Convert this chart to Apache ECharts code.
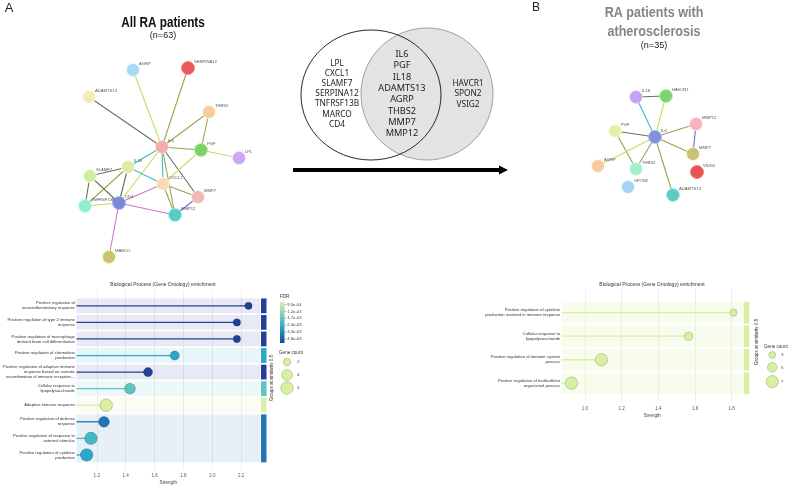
<!DOCTYPE html>
<html><head><meta charset="utf-8">
<script src="https://cdn.jsdelivr.net/npm/echarts@6/dist/echarts.min.js"></script>
<style>html,body{margin:0;padding:0;background:#fff}#c{width:793px;height:486px}</style>
</head><body><div id="c"></div>
<script>
// ---------------- DATA ----------------
const vennAllOnly = ['LPL','CXCL1','SLAMF7','SERPINA12','TNFRSF13B','MARCO','CD4'];
const vennShared  = ['IL6','PGF','IL18','ADAMTS13','AGRP','THBS2','MMP7','MMP12'];
const vennAthOnly = ['HAVCR1','SPON2','VSIG2'];

// Network A (all RA patients) - node layout positions
const netANodes = ['AGRP','SERPINA12','ADAMTS13','THBS2','IL6','PGF','LPL','IL18','SLAMF7','CXCL1','MMP7','TNFRSF13B','CD4','MMP12','MARCO'];
const netAPos   = [[133,70],[188,68],[89,97],[209,112],[162,147],[201,150],[239,158],[128,167],[90,176],[163,184],[198,197],[85,206],[119,203],[175,215],[109,257]];
const netAColors= ['#a9d9f5','#e9585c','#f2ecb4','#f8cba6','#f4abab','#7fcf6c','#c9a8f5','#dcebab','#c9f0a2','#f6dab4','#f2bab2','#93efc9','#7b89d9','#5ec9c1','#c9c274'];
const netAEdges = [
  ['IL6','AGRP','y'],['IL6','SERPINA12','o'],['IL6','ADAMTS13','d'],['IL6','THBS2','o'],['THBS2','PGF','o'],
  ['IL6','PGF','o'],['PGF','LPL','y'],['IL6','IL18','c'],['IL6','CXCL1','c'],['IL6','MMP7','d'],['IL6','MMP12','o'],
  ['IL6','CD4','y'],['PGF','CXCL1','y'],['IL18','SLAMF7','d'],['IL18','CXCL1','c'],['IL18','CD4','d'],
  ['IL18','TNFRSF13B','o'],['SLAMF7','CD4','d'],['SLAMF7','TNFRSF13B','d'],['TNFRSF13B','CD4','y'],
  ['CD4','CXCL1','p'],['CD4','MMP12','p'],['CD4','MARCO','p'],['CXCL1','MMP7','o'],['CXCL1','MMP12','o'],['MMP7','MMP12','b']
];

// Network B (RA patients with atherosclerosis)
const netBNodes = ['IL18','HAVCR1','MMP12','PGF','IL6','MMP7','AGRP','THBS2','VSIG2','SPON2','ADAMTS13'];
const netBPos   = [[636,97],[666,96],[696,124],[615,131],[655,137],[693,154],[598,166],[636,169],[697,172],[628,187],[673,195]];
const netBColors= ['#c2a4f2','#82d173','#f5b3bb','#def0ab','#8292d9','#c9c27b','#f8caa3','#a3f0ca','#e85353','#aad2f2','#62c9c1'];
const netBEdges = [
  ['IL18','HAVCR1','d'],['IL18','IL6','c'],['HAVCR1','IL6','y'],['IL6','MMP12','o'],['IL6','MMP7','o'],
  ['MMP12','MMP7','b'],['PGF','IL6','d'],['PGF','THBS2','o'],['AGRP','IL6','y'],['IL6','THBS2','o'],['IL6','ADAMTS13','o']
];

// Enrichment A
const leftTerms = [
  'Positive regulation of\nneuroinflammatory response',
  'Positive regulation of type 2 immune\nresponse',
  'Positive regulation of macrophage\nderived foam cell differentiation',
  'Positive regulation of chemokine\nproduction',
  'Positive regulation of adaptive immune\nresponse based on somatic\nrecombination of immune receptors...',
  'Cellular response to\nlipopolysaccharide',
  'Adaptive immune response',
  'Positive regulation of defense\nresponse',
  'Positive regulation of response to\nexternal stimulus',
  'Positive regulation of cytokine\nproduction'
];
const leftStrength = [2.25,2.17,2.17,1.74,1.555,1.43,1.265,1.25,1.16,1.13];
const leftGenes    = [2,2,2,3,3,4,5,4,5,5];
const leftFdr      = [4.8e-3,4.8e-3,4.8e-3,2.4e-3,4.8e-3,1.7e-3,9.3e-4,3.3e-3,2.0e-3,2.4e-3];
const leftGroups   = [[0,0,4.8e-3],[1,1,4.8e-3],[2,2,4.8e-3],[3,3,2.4e-3],[4,4,4.8e-3],[5,5,1.7e-3],[6,6,9.3e-4],[7,9,3.3e-3]];
const leftTicks    = [1.2,1.4,1.6,1.8,2.0,2.2];
const leftLegendCounts = [2,4,5];

// Enrichment B
const rightTerms = [
  'Positive regulation of cytokine\nproduction involved in immune response',
  'Cellular response to\nlipopolysaccharide',
  'Positive regulation of immune system\nprocess',
  'Positive regulation of multicellular\norganismal process'
];
const rightStrength = [1.81,1.565,1.09,0.927];
const rightGenes    = [3,4,7,7];
const rightFdr      = [9.3e-4,9.3e-4,9.3e-4,9.3e-4];
const rightGroups   = [[0,0,9.3e-4],[1,1,9.3e-4],[2,2,9.3e-4],[3,3,9.3e-4]];
const rightTicks    = [1.0,1.2,1.4,1.6,1.8];
const rightLegendCounts = [3,5,7];

const fdrTicks  = [9.3e-4,1.2e-3,1.7e-3,2.4e-3,3.3e-3,4.8e-3];

// ---------------- STYLE ----------------
const fdrColors = ['#d9f0a3','#a6dcb6','#5fc4bf','#2aa8c9','#2175b3','#243f97'];
const edgeColors = {d:'#707058', o:'#9ea24e', y:'#c8dc62', c:'#3fb8d2', p:'#d274cc', b:'#6a6ae2'};
const FONT = '"Liberation Sans", Arial, sans-serif';
const L = {xmin:1.06, xmax:2.33, ymin:-0.956, ymax:9.91};
const R = {xmin:0.873, xmax:1.86, ymin:-1.05, ymax:3.84};
const sizeL = g => 4 + 1.7*g;
const sizeR = g => 2.8 + 1.35*g;

function fdrColor(f){
  const lt = fdrTicks.map(Math.log), lf = Math.log(f);
  let pos = 0;
  if (lf <= lt[0]) pos = 0;
  else if (lf >= lt[lt.length-1]) pos = lt.length-1;
  else for (let i=0;i<lt.length-1;i++){ if (lf>=lt[i] && lf<=lt[i+1]) { pos = i + (lf-lt[i])/(lt[i+1]-lt[i]); break; } }
  return echarts.color.lerp(pos/(lt.length-1), fdrColors);
}
const fmtE = v => v.toExponential(1).replace(/e([+-])(\d)$/, 'e$10$2');

function netSeries(nodes,pos,colors,edges){
  return {
    type:'graph', coordinateSystem:'cartesian2d', xAxisIndex:2, yAxisIndex:2,
    symbolSize:13, z:3,
    data: nodes.map((n,i)=>({name:n, value:pos[i],
      itemStyle:{color:colors[i], borderColor:echarts.color.lift(colors[i], -0.3), borderWidth:0.8}})),
    links: edges.map(([s,t,k])=>({source:s, target:t, lineStyle:{color:edgeColors[k]}})),
    lineStyle:{width:1.1, opacity:1, curveness:0},
    label:{show:true, position:'right', distance:0, offset:[-1,-6], fontSize:4.2, color:'#555', fontFamily:FONT},
    emphasis:{disabled:true}, silent:true
  };
}

function bandSeries(gi, groups, X, alpha){
  return {
    type:'custom', xAxisIndex:gi, yAxisIndex:gi, clip:false, z:1, silent:true,
    data: groups,
    renderItem(params, api){
      const s=api.value(0), e=api.value(1), col=fdrColor(api.value(2));
      const h=Math.abs(api.size([0,1])[1]);
      const x0=api.coord([X.xmin,s])[0], x1=api.coord([X.xmax,s])[0];
      const y0=api.coord([X.xmin,s])[1]-h/2+0.9, y1=api.coord([X.xmin,e])[1]+h/2-0.9;
      return {type:'group', children:[
        {type:'rect', shape:{x:x0,y:y0,width:x1-x0,height:y1-y0}, style:{fill:echarts.color.modifyAlpha(col, alpha)}},
        {type:'rect', shape:{x:x1+1,y:y0,width:5.5,height:y1-y0}, style:{fill:col}}
      ]};
    }
  };
}
function stemSeries(gi, strength, fdr, X, lw, colorFn){
  return {
    type:'custom', xAxisIndex:gi, yAxisIndex:gi, z:2, silent:true,
    data: strength.map((v,i)=>[v,i,fdr[i]]),
    renderItem(params, api){
      const p0=api.coord([X.xmin, api.value(1)]), p1=api.coord([api.value(0), api.value(1)]);
      return {type:'line', shape:{x1:p0[0],y1:p0[1],x2:p1[0],y2:p1[1]}, style:{stroke:colorFn(api.value(2)), lineWidth:lw}};
    }
  };
}
function dotSeries(gi, strength, genes, fdr, sizeFn, border){
  return {
    type:'scatter', xAxisIndex:gi, yAxisIndex:gi, z:4, silent:true,
    data: strength.map((v,i)=>[v,i,genes[i],fdr[i]]),
    symbolSize: d=>sizeFn(d[2]),
    itemStyle:{color:p=>fdrColor(p.data[3]), borderColor:border, borderWidth:0.7, opacity:1}
  };
}
function xAx(gi, X, ticks){
  return {gridIndex:gi, type:'value', min:X.xmin, max:X.xmax,
    axisLine:{show:false}, axisTick:{show:false, customValues:ticks},
    axisLabel:{customValues:ticks, fontSize:4.5, color:'#555', margin:3, fontFamily:FONT, formatter:v=>v.toFixed(1)},
    splitLine:{show:true, lineStyle:{color:'#e4e4e4', width:0.6}},
    name:'Strength', nameLocation:'middle', nameGap:10, nameTextStyle:{fontSize:4.6, color:'#444', fontFamily:FONT}};
}
function yAx(gi, X, terms){
  return {gridIndex:gi, type:'value', inverse:true, min:X.ymin, max:X.ymax,
    axisLine:{show:false}, axisTick:{show:false}, splitLine:{show:false},
    axisLabel:{customValues:terms.map((t,i)=>i), formatter:v=>terms[v], fontSize:4.2, lineHeight:5,
      color:'#333', margin:1.6, align:'right', fontFamily:FONT}};
}

// ---------------- GRAPHICS (titles, venn, legends) ----------------
const g = [];
const txt = (text,x,y,o,el) => g.push(Object.assign({type:'text', silent:true, x, y,
  style:Object.assign({text, x:0, y:0, align:'center', verticalAlign:'middle', fontFamily:FONT, fill:'#222'}, o||{})}, el||{}));
const NARROW = '"Liberation Sans Narrow", "Liberation Sans", Arial, sans-serif';
txt('A', 9, 8, {fontSize:13});
txt('B', 536, 8, {fontSize:12});
txt('All RA patients', 163, 23, {fontSize:14, fontWeight:'bold', fontFamily:NARROW, fill:'#111'}, {scaleX:0.84});
txt('(n=63)', 163, 36, {fontSize:9});
txt('RA patients with\natherosclerosis', 654, 22.5, {fontSize:15, lineHeight:19, fontWeight:'bold', fontFamily:NARROW, fill:'#858585'}, {scaleX:0.84});
txt('(n=35)', 654, 46, {fontSize:9});

// Venn
g.push({type:'ellipse', silent:true, shape:{cx:371, cy:95, rx:70, ry:65}, style:{fill:'#fff'}});
g.push({type:'ellipse', silent:true, shape:{cx:427, cy:94, rx:66, ry:66}, style:{fill:'#e3e3e3', stroke:'#8c8c8c', lineWidth:0.8}});
g.push({type:'ellipse', silent:true, shape:{cx:371, cy:95, rx:70, ry:65}, style:{fill:null, stroke:'#111', lineWidth:0.9}});
const VF = '"Noto Sans", "Open Sans", sans-serif';
txt(vennAllOnly.join('\n'), 337, 94, {fontSize:8.3, lineHeight:10.1, fontFamily:VF, fill:'#222'});
txt(vennShared.join('\n'), 402, 94, {fontSize:9.2, lineHeight:11.3, fontFamily:VF, fill:'#222'});
txt(vennAthOnly.join('\n'), 468, 94, {fontSize:8.3, lineHeight:10.5, fontFamily:VF, fill:'#222'});
// Arrow
g.push({type:'line', silent:true, shape:{x1:293,y1:170,x2:501,y2:170}, style:{stroke:'#000', lineWidth:4.2}});
g.push({type:'polygon', silent:true, shape:{points:[[499,165.5],[508,170],[499,174.5]]}, style:{fill:'#000'}});

// Enrichment titles
txt('Biological Process (Gene Ontology) enrichment', 163, 285, {fontSize:5, fill:'#333'});
txt('Biological Process (Gene Ontology) enrichment', 652, 285, {fontSize:5, fill:'#333'});
// Groups labels (rotated, reading bottom to top)
txt('Groups at similarity 0.8', 271.5, 378, {fontSize:4.5, fill:'#333'}, {rotation:Math.PI/2});
txt('Groups at similarity 0.8', 757, 342, {fontSize:4.5, fill:'#333'}, {rotation:Math.PI/2});

// FDR colorbar (left)
txt('FDR', 280, 297, {fontSize:4.6, align:'left', fill:'#333'});
g.push({type:'rect', silent:true, shape:{x:280, y:302, width:4.5, height:41},
  style:{fill:new echarts.graphic.LinearGradient(0,0,0,1, fdrColors.map((c,i)=>({offset:i/(fdrColors.length-1), color:c})))}});
fdrTicks.forEach((f,i)=>{
  const y = 304.5 + i*(34.5/(fdrTicks.length-1));
  g.push({type:'line', silent:true, shape:{x1:284.5,y1:y,x2:286.5,y2:y}, style:{stroke:'#666', lineWidth:0.5}});
  txt(fmtE(f), 287.3, y, {fontSize:4.2, align:'left', fill:'#444'});
});
// Gene count legends
txt('Gene count', 279, 353, {fontSize:4.6, align:'left', fill:'#333'});
[362,375,388].forEach((y,i)=>{
  const r = sizeL(leftLegendCounts[i])/2;
  g.push({type:'circle', silent:true, shape:{cx:287, cy:y, r}, style:{fill:'#d9f0a3', stroke:'#9bb57a', lineWidth:0.6}});
  txt(String(leftLegendCounts[i]), 297, y, {fontSize:4.4, align:'left', fill:'#444'});
});
txt('Gene count', 764, 346.5, {fontSize:4.6, align:'left', fill:'#333'});
[355,367.3,381.7].forEach((y,i)=>{
  const r = sizeR(rightLegendCounts[i])/2;
  g.push({type:'circle', silent:true, shape:{cx:772.3, cy:y, r}, style:{fill:'#d9f0a3', stroke:'#9bb57a', lineWidth:0.6}});
  txt(String(rightLegendCounts[i]), 781, y, {fontSize:4.4, align:'left', fill:'#444'});
});

// ---------------- CHART ----------------
const chart = echarts.init(document.getElementById('c'), null, {renderer:'canvas'});
chart.setOption({
  backgroundColor:'#fff',
  animation:false,
  grid:[
    {left:75, top:290, width:185, height:182},
    {left:561.7, top:288, width:181, height:115},
    {left:0, top:0, width:793, height:486}
  ],
  xAxis:[ xAx(0,L,leftTicks), xAx(1,R,rightTicks),
    {gridIndex:2, type:'value', min:0, max:793, show:false} ],
  yAxis:[ yAx(0,L,leftTerms), yAx(1,R,rightTerms),
    {gridIndex:2, type:'value', min:0, max:486, inverse:true, show:false} ],
  graphic: g,
  series:[
    bandSeries(0, leftGroups, L, 0.11),
    stemSeries(0, leftStrength, leftFdr, L, 1.3, fdrColor),
    dotSeries(0, leftStrength, leftGenes, leftFdr, sizeL, 'rgba(0,0,0,0.28)'),
    bandSeries(1, rightGroups, R, 0.2),
    stemSeries(1, rightStrength, rightFdr, R, 1.3, fdrColor),
    dotSeries(1, rightStrength, rightGenes, rightFdr, sizeR, '#9fbd7d'),
    netSeries(netANodes, netAPos, netAColors, netAEdges),
    netSeries(netBNodes, netBPos, netBColors, netBEdges)
  ]
});
</script></body></html>
